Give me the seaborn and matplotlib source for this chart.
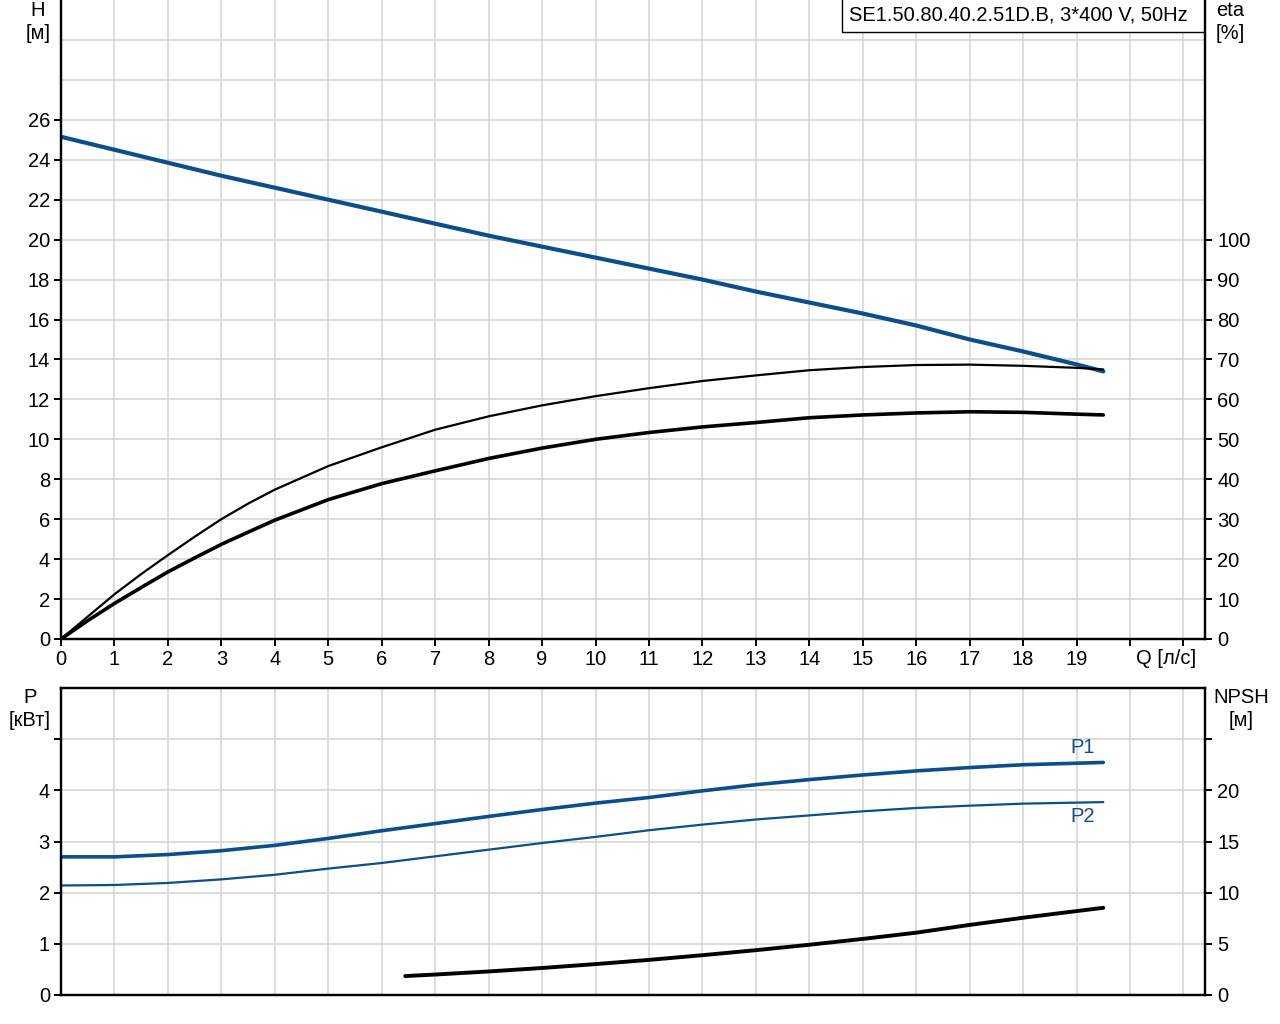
import numpy as np
import seaborn as sns
import matplotlib.pyplot as plt
from matplotlib.patches import Rectangle

# flow, Q [l/s]
q = [0, 1, 2, 3, 4, 5, 6, 7, 8, 9, 10, 11, 12, 13, 14, 15, 16, 17, 18, 19, 19.5]

# head H [m]
head = [25.15, 24.5, 23.85, 23.2, 22.6, 22.0, 21.4, 20.8, 20.2, 19.65, 19.1,
        18.55, 18.0, 17.4, 16.85, 16.3, 15.7, 15.0, 14.4, 13.75, 13.4]

# efficiency curves [%]
q_eta = [0, 0.5, 1, 1.5, 2, 2.5, 3, 3.5, 4, 5, 6, 7, 8, 9, 10,
         11, 12, 13, 14, 15, 16, 17, 18, 19, 19.5]
eta_thin = [0, 5.6, 11.2, 16.25, 21.0, 25.6, 30.0, 33.9, 37.4, 43.3, 48.0,
            52.4, 55.75, 58.5, 60.8, 62.8, 64.6, 66.0, 67.3, 68.1, 68.6,
            68.7, 68.4, 67.9, 67.5]
eta_thick = [0, 4.6, 8.9, 12.9, 16.8, 20.3, 23.7, 26.75, 29.75, 34.9, 38.9,
             42.1, 45.2, 47.8, 50.0, 51.7, 53.1, 54.2, 55.4, 56.1, 56.6,
             56.9, 56.75, 56.3, 56.1]

# power [kW]
p1 = [2.70, 2.70, 2.745, 2.82, 2.925, 3.06, 3.21, 3.35, 3.49, 3.625, 3.75,
      3.86, 3.99, 4.11, 4.21, 4.30, 4.38, 4.445, 4.50, 4.53, 4.545]
p2 = [2.14, 2.15, 2.19, 2.26, 2.35, 2.47, 2.58, 2.71, 2.84, 2.97, 3.09,
      3.22, 3.33, 3.43, 3.51, 3.59, 3.655, 3.70, 3.74, 3.76, 3.77]

# NPSH [m]
q_npsh = [6.44, 7, 8, 9, 10, 11, 12, 13, 14, 15, 16, 17, 18, 19, 19.5]
npsh = [1.85, 2.0, 2.3, 2.64, 3.02, 3.43, 3.89, 4.38, 4.91, 5.48, 6.09,
        6.85, 7.55, 8.2, 8.52]

x_labels = [str(i) for i in range(20)] + ["", ""]
h_ticks = list(range(0, 27, 2))
p_labels = ["0", "1", "2", "3", "4", ""]
npsh_labels = ["0", "5", "10", "15", "20", ""]

title = "SE1.50.80.40.2.51D.B, 3*400 V, 50Hz"

BLUE = "#0b4f8a"
GRID = "#d3d3d3"
FS = 14.5

sns.set_style("whitegrid")
plt.rcParams["font.family"] = ["Liberation Sans", "DejaVu Sans"]
plt.rcParams["text.color"] = "black"

W, H = 1280, 1024
fig = plt.figure(figsize=(12.8, 10.24), dpi=100)

left, right = 61, 1205
ax1 = fig.add_axes([left / W, 1 - 639 / H, (right - left) / W, 639 / H])
ax2 = fig.add_axes([left / W, 1 - 995 / H, (right - left) / W, (995 - 688) / H])
tw1 = ax1.twinx()
tw2 = ax2.twinx()

xmax = (right - left) / 53.45

for ax in (ax1, ax2, tw1, tw2):
    ax.set_xlim(0, xmax)
    for s in ax.spines.values():
        s.set_color("black")
        s.set_linewidth(1.6)

for ax in (ax1, ax2):
    ax.set_facecolor("white")
    ax.set_axisbelow(True)
for tw in (tw1, tw2):
    tw.grid(False)

tick_kw = dict(direction="out", length=5, width=1.4, color="black",
               labelcolor="black", labelsize=FS)

# top panel
sns.lineplot(x=q, y=head, ax=ax1, color=BLUE, linewidth=3.0, solid_capstyle="round")
sns.lineplot(x=q_eta, y=eta_thin, ax=tw1, color="black", linewidth=1.6, solid_capstyle="round")
sns.lineplot(x=q_eta, y=eta_thick, ax=tw1, color="black", linewidth=2.6, solid_capstyle="round")

ax1.set_ylim(0, 32)
tw1.set_ylim(0, 160)
ax1.set_xticks(range(22))
ax1.set_xticklabels(x_labels)
ax1.set_yticks(h_ticks)
ax1.set_yticklabels([str(v) for v in h_ticks])
ax1.set_yticks([28, 30], minor=True)
tw1.set_yticks(range(0, 101, 10))
tw1.set_yticklabels([str(v) for v in range(0, 101, 10)])
ax1.spines["top"].set_visible(False)
tw1.spines["top"].set_visible(False)

ax1.grid(True, which="both", color=GRID, linewidth=1.1)
ax1.tick_params(axis="both", which="major", pad=3, bottom=True, left=True, **tick_kw)
ax1.tick_params(axis="y", which="minor", length=0, left=False)
tw1.tick_params(axis="y", pad=4, right=True, **tick_kw)

# bottom panel
sns.lineplot(x=q, y=p1, ax=ax2, color=BLUE, linewidth=2.6, solid_capstyle="round")
sns.lineplot(x=q, y=p2, ax=ax2, color=BLUE, linewidth=1.6, solid_capstyle="round")
sns.lineplot(x=q_npsh, y=npsh, ax=tw2, color="black", linewidth=2.8, solid_capstyle="round")

ax2.set_ylim(0, 6)
tw2.set_ylim(0, 30)
ax2.set_xticks(range(22))
ax2.set_xticklabels([])
ax2.set_yticks(range(6))
ax2.set_yticklabels(p_labels)
tw2.set_yticks(range(0, 26, 5))
tw2.set_yticklabels(npsh_labels)
ax2.grid(True, color=GRID, linewidth=1.1)
ax2.tick_params(axis="x", bottom=False, labelbottom=False)
tw2.tick_params(axis="x", bottom=False, labelbottom=False)
ax2.tick_params(axis="y", pad=3, left=True, **tick_kw)
tw2.tick_params(axis="y", pad=4, right=True, **tick_kw)

for ax in (ax1, ax2, tw1, tw2):
    ax.set_xlabel("")
    ax.set_ylabel("")

ax2.text(19.12, 4.83, "P1", color=BLUE, fontsize=FS, ha="center", va="center")
ax2.text(19.12, 3.48, "P2", color=BLUE, fontsize=FS, ha="center", va="center")

# axis titles
kw = dict(fontsize=FS, ha="center", va="top", linespacing=1.25, color="black")
fig.text(38 / W, 1 - 1 / H, "H\n[м]", **kw)
fig.text(1230 / W, 1 - 1 / H, "eta\n[%]", **kw)
fig.text(30 / W, 1 - 688 / H, "P\n[кВт]", **kw)
fig.text(1241 / W, 1 - 688 / H, "NPSH\n[м]", **kw)
fig.text(1166 / W, 1 - 659 / H, "Q [л/с]", fontsize=FS, ha="center", va="center",
         color="black")

# title box
fig.patches.append(Rectangle((842 / W, 1 - 32 / H), (1204 - 842) / W, 34 / H,
                             transform=fig.transFigure, facecolor="white",
                             edgecolor="black", linewidth=1.0, zorder=5))
fig.text(1018 / W, 1 - 15 / H, title, fontsize=FS, ha="center", va="center",
         color="black", zorder=6)

fig.savefig("out.png", dpi=100)
